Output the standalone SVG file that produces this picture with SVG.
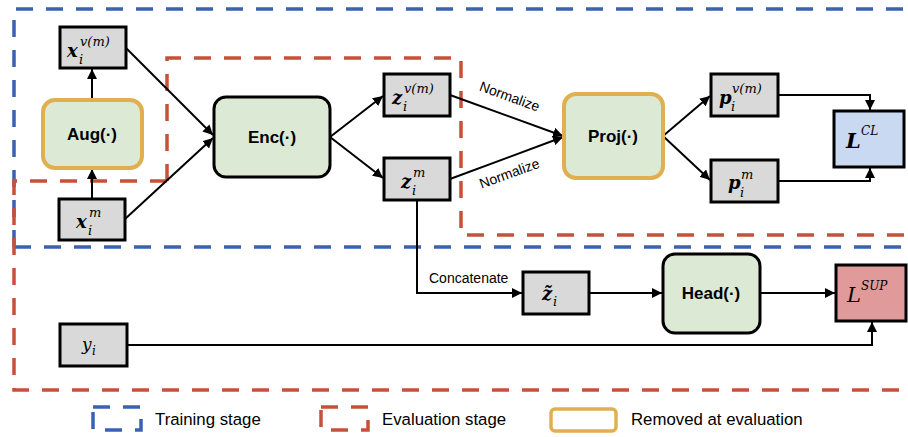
<svg xmlns="http://www.w3.org/2000/svg" width="908" height="437" viewBox="0 0 908 437">
<defs>
<marker id="ah" viewBox="0 0 10 10" refX="10" refY="5" markerWidth="10" markerHeight="10" markerUnits="userSpaceOnUse" orient="auto"><path d="M0,0 L10,5 L0,10 z" fill="#000"/></marker>
<style>
.blue{fill:none;stroke:#3a62b0;stroke-width:3.5;stroke-dasharray:17 13}
.red{fill:none;stroke:#c5513a;stroke-width:3.5;stroke-dasharray:17 13}
.gray{fill:#d9d9d9;stroke:#000;stroke-width:3}
.green{fill:#dce9d5;stroke:#000;stroke-width:3}
.greenor{fill:#dce9d5;stroke:#e0b050;stroke-width:4}
.conn{fill:none;stroke:#000;stroke-width:2}
.lbl{font-family:"Liberation Sans",Arial,sans-serif;font-size:14px;fill:#000}
.fn{font-family:"Liberation Sans",Arial,sans-serif;font-size:17px;font-weight:bold;fill:#000;text-anchor:middle}
.m{font-family:"DejaVu Serif","Liberation Serif",serif;font-style:italic;fill:#000}
.mb{font-weight:bold;font-size:18px}
.sup{font-size:13px}
.leg{font-family:"Liberation Sans",Arial,sans-serif;font-size:16.8px;fill:#000}
</style>
</defs>
<g id="stages">
<path class="blue" d="M14,247 L14,9 L908,9 M14,247 L905,247"/>
<path class="red" d="M167,181 L167,58 L461,58 L461,235 L908,235 M167,181 L14,181 L14,390 L908,390"/>
</g>
<g id="connectors">
<line class="conn" x1="92" y1="100" x2="92" y2="69" marker-end="url(#ah)"/>
<line class="conn" x1="92" y1="199" x2="92" y2="169" marker-end="url(#ah)"/>
<line class="conn" x1="126" y1="48" x2="213" y2="135" marker-end="url(#ah)"/>
<line class="conn" x1="125" y1="219" x2="213" y2="138" marker-end="url(#ah)"/>
<line class="conn" x1="330" y1="137" x2="383" y2="96" marker-end="url(#ah)"/>
<line class="conn" x1="330" y1="137" x2="383" y2="178" marker-end="url(#ah)"/>
<line class="conn" x1="450" y1="95" x2="563" y2="136" marker-end="url(#ah)"/>
<line class="conn" x1="450" y1="179" x2="563" y2="137" marker-end="url(#ah)"/>
<line class="conn" x1="663" y1="136" x2="710" y2="96" marker-end="url(#ah)"/>
<line class="conn" x1="663" y1="136" x2="710" y2="180" marker-end="url(#ah)"/>
<path class="conn" d="M778,95 L870,95 L870,110" marker-end="url(#ah)"/>
<path class="conn" d="M778,181 L870,181 L870,168" marker-end="url(#ah)"/>
<path class="conn" d="M417,200 L417,293 L522,293" marker-end="url(#ah)"/>
<line class="conn" x1="589" y1="293" x2="662" y2="293" marker-end="url(#ah)"/>
<line class="conn" x1="760" y1="293" x2="835" y2="293" marker-end="url(#ah)"/>
<path class="conn" d="M127,345 L872,345 L872,322" marker-end="url(#ah)"/>
<text class="lbl" transform="translate(508,101) rotate(20)" text-anchor="middle">Normalize</text>
<text class="lbl" transform="translate(511,178) rotate(-20)" text-anchor="middle">Normalize</text>
<text class="lbl" x="429" y="283">Concatenate</text>
</g>
<g id="xv">
<rect class="gray" x="60" y="27" width="66" height="41"/>
<text class="m mb" x="67" y="57">x</text>
<text class="m sup" x="79" y="64">i</text>
<text class="m sup" x="80" y="46">v(m)</text>
</g>
<g id="aug">
<rect class="greenor" x="43" y="100" width="99" height="68" rx="12"/>
<text class="fn" x="92" y="140">Aug(·)</text>
</g>
<g id="xm">
<rect class="gray" x="59" y="199" width="66" height="41"/>
<text class="m mb" x="76" y="228">x</text>
<text class="m sup" x="88" y="235">i</text>
<text class="m sup" x="89" y="217">m</text>
</g>
<g id="enc">
<rect class="green" x="214" y="97" width="116" height="80" rx="12"/>
<text class="fn" x="272" y="143">Enc(·)</text>
</g>
<g id="zv">
<rect class="gray" x="384" y="74" width="66" height="42"/>
<text class="m mb" x="392" y="104">z</text>
<text class="m sup" x="403" y="111">i</text>
<text class="m sup" x="404" y="93">v(m)</text>
</g>
<g id="zm">
<rect class="gray" x="384" y="158" width="66" height="42"/>
<text class="m mb" x="401" y="188">z</text>
<text class="m sup" x="412" y="195">i</text>
<text class="m sup" x="413" y="177">m</text>
</g>
<g id="proj">
<rect class="greenor" x="564" y="94" width="99" height="84" rx="12"/>
<text class="fn" x="613" y="142">Proj(·)</text>
</g>
<g id="pv">
<rect class="gray" x="711" y="74" width="67" height="42"/>
<text class="m mb" x="719" y="104">p</text>
<text class="m sup" x="731" y="111">i</text>
<text class="m sup" x="732" y="93">v(m)</text>
</g>
<g id="pm">
<rect class="gray" x="711" y="160" width="67" height="42"/>
<text class="m mb" x="728" y="189">p</text>
<text class="m sup" x="740" y="197">i</text>
<text class="m sup" x="741" y="179">m</text>
</g>
<g id="lcl">
<rect x="834" y="111" width="70" height="56" fill="#c9d9f2" stroke="#000" stroke-width="3"/>
<text class="m" x="846" y="148" font-size="21" font-weight="bold">L</text>
<text class="m" x="861" y="135" font-size="12">CL</text>
</g>
<g id="zt">
<rect class="gray" x="523" y="272" width="66" height="42"/>
<text class="m mb" x="542" y="300">z̃</text>
<text class="m sup" x="553" y="306">i</text>
</g>
<g id="head">
<rect class="green" x="663" y="254" width="97" height="79" rx="12"/>
<text class="fn" x="711" y="299">Head(·)</text>
</g>
<g id="lsup">
<rect x="836" y="265" width="70" height="56" fill="#e09a9a" stroke="#000" stroke-width="3"/>
<text class="m" x="847" y="302" font-size="21">L</text>
<text class="m" x="861" y="290" font-size="12">SUP</text>
</g>
<g id="yi">
<rect class="gray" x="60" y="324" width="67" height="42"/>
<text class="m" x="82" y="350" font-size="17">y</text>
<text class="m" x="92" y="355" font-size="12">i</text>
</g>
<g id="legend">
<rect class="blue" x="93" y="407" width="48" height="23" stroke-dasharray="14 10"/>
<text class="leg" x="155" y="425">Training stage</text>
<rect class="red" x="321" y="407" width="47" height="23" stroke-dasharray="14 10"/>
<text class="leg" x="382" y="425">Evaluation stage</text>
<rect x="551" y="409" width="65" height="22" rx="4" fill="none" stroke="#e0b050" stroke-width="3.5"/>
<text class="leg" x="631" y="425">Removed at evaluation</text>
</g>
</svg>
